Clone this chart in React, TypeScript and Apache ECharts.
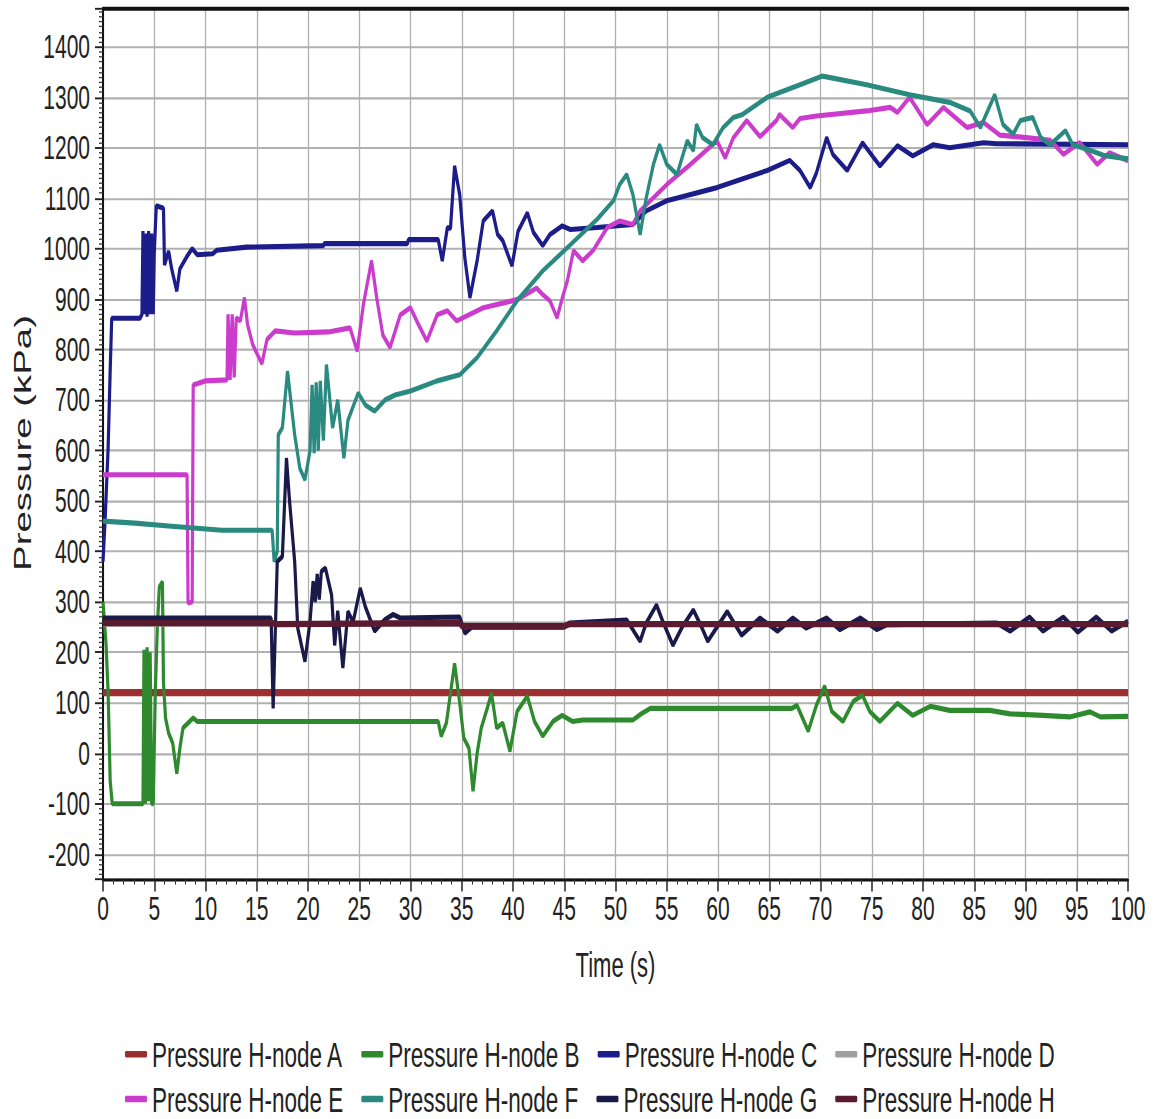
import React, { useEffect, useRef } from "react";
import * as echarts from "echarts";

// The reference picture is vertically stretched; the chart is drawn at a
// reduced height and stretched by the same factor with a CSS transform.
const STRETCH = 1.6;
const WIDTH = 1159;
const HEIGHT = 1119;
const FONT = "'Liberation Sans', Arial, sans-serif";

const seriesNames = [
  "Pressure H-node A",
  "Pressure H-node B",
  "Pressure H-node C",
  "Pressure H-node D",
  "Pressure H-node E",
  "Pressure H-node F",
  "Pressure H-node G",
  "Pressure H-node H",
];

const nodeA: [number, number][] = [[0, 120], [100, 120]];

const nodeB: [number, number][] = [
  [0, 300], [0.3, 215], [0.5, 120], [0.7, -55], [0.9, -100], [3.9, -100], [4.0, 205], [4.15, -100],
  [4.3, 210], [4.45, -95], [4.6, 200], [4.75, -100], [4.9, -100], [5.1, 120], [5.3, 250], [5.5, 330],
  [5.8, 340], [5.9, 140], [6.1, 70], [6.4, 40], [6.8, 20], [7.2, -40], [7.5, 10], [7.8, 50], [8.3, 60],
  [8.8, 70], [9.2, 63], [32.7, 63], [33.0, 34], [33.5, 60], [34.3, 178], [34.8, 100], [35.2, 30],
  [35.7, 10], [36.1, -75], [36.5, 0], [36.9, 50], [37.5, 90], [37.9, 119], [38.4, 50], [39.0, 60],
  [39.7, 4], [40.4, 83], [41.4, 113], [42.1, 63], [42.9, 34], [43.9, 63], [44.8, 75], [45.8, 63],
  [46.8, 66], [51.7, 66], [52.5, 78], [53.4, 89], [67.2, 89], [67.7, 95], [68.8, 44], [69.6, 95],
  [70.4, 133], [71.1, 83], [72.2, 63], [73.2, 103], [74.1, 115], [74.8, 83], [75.8, 63], [77.5, 99],
  [79.0, 75], [80.7, 93], [82.6, 85], [86.5, 85], [88.5, 78], [91.7, 75], [94.3, 72], [96.3, 82],
  [97.3, 72], [100, 73],
];

const nodeC: [number, number][] = [
  [0, 380], [0.2, 460], [0.5, 605], [0.7, 758], [0.85, 862], [3.6, 862], [3.8, 870], [3.9, 1035],
  [4.0, 870], [4.15, 1030], [4.3, 865], [4.45, 1035], [4.6, 870], [4.75, 1030], [4.9, 870], [5.0, 990],
  [5.2, 1085], [5.9, 1080], [6.0, 968], [6.4, 995], [6.7, 960], [7.2, 916], [7.5, 960], [8.2, 985],
  [8.7, 1000], [9.2, 988], [10.7, 990], [11.1, 997], [14, 1003], [21.5, 1006], [21.6, 1010],
  [29.7, 1010], [29.8, 1018], [32.7, 1018], [33.1, 976], [33.6, 1042], [33.9, 1040], [34.3, 1164],
  [34.8, 1107], [35.3, 982], [35.8, 903], [36.5, 976], [37.1, 1055], [38.0, 1075], [38.5, 1028],
  [39.0, 1016], [39.9, 966], [40.5, 1035], [41.4, 1071], [42.0, 1032], [42.9, 1006], [43.6, 1028],
  [44.8, 1045], [45.6, 1038], [48.2, 1042], [51.7, 1048], [53.0, 1075], [55, 1095], [59.9, 1121],
  [64.8, 1155], [67, 1175], [68, 1155], [69, 1121], [69.6, 1150], [70.6, 1220], [71.2, 1187],
  [72.6, 1155], [74.1, 1210], [75.8, 1164], [77.5, 1204], [79.0, 1184], [81, 1206], [82.6, 1200],
  [85.9, 1210], [87.2, 1208], [100, 1206],
];

const nodeD: [number, number][] = [[0, 256], [100, 256]];

const nodeE: [number, number][] = [
  [0, 552], [8.2, 552], [8.3, 298], [8.7, 300], [8.8, 730], [10, 738], [12.1, 740], [12.2, 870],
  [12.4, 740], [12.6, 870], [12.8, 745], [13.0, 863], [13.4, 857], [13.8, 903], [14.1, 850],
  [14.6, 810], [15.5, 772], [16, 820], [16.8, 837], [18.7, 833], [22, 835], [24.1, 843], [24.8, 797],
  [25.4, 889], [26.2, 976], [26.7, 903], [27.3, 829], [28, 804], [29, 869], [30, 883], [30.6, 857],
  [31.6, 817], [32.6, 869], [33.6, 877], [34.5, 857], [37.1, 883], [40.4, 899], [42.3, 922],
  [42.9, 909], [43.6, 897], [44.3, 863], [44.9, 909], [45.3, 936], [45.9, 996], [46.8, 976],
  [47.8, 996], [49.2, 1042], [50.4, 1055], [51.7, 1048], [52.4, 1075], [55, 1127], [57.3, 1167],
  [59.9, 1214], [60.7, 1180], [61.5, 1220], [62.8, 1254], [64.1, 1222], [65.7, 1254], [66, 1266],
  [67.3, 1240], [68, 1258], [69.6, 1263], [74.5, 1273], [76.8, 1280], [77.5, 1270], [78.7, 1300],
  [80.4, 1246], [82, 1280], [84.3, 1240], [85.9, 1250], [87.5, 1225], [90.1, 1220], [92.4, 1215],
  [93.7, 1187], [95.3, 1210], [97, 1167], [98.2, 1190], [100, 1174],
];

const nodeF: [number, number][] = [
  [0, 460], [3.1, 456], [6.7, 450], [11.6, 442], [16.5, 442], [16.7, 380], [17.0, 400], [17.1, 631],
  [17.5, 645], [18, 757], [18.7, 631], [19.2, 565], [19.7, 542], [20.2, 600], [20.4, 730], [20.6, 595],
  [20.8, 735], [21.0, 600], [21.2, 738], [21.5, 620], [21.8, 770], [22.4, 645], [22.9, 700],
  [23.5, 585], [23.9, 660], [24.9, 714], [25.6, 690], [26.5, 678], [27.5, 700], [28.5, 710],
  [30, 718], [32.6, 738], [34.8, 750], [36.5, 784], [38.4, 837], [40.4, 897], [42.9, 956],
  [45.3, 1002], [48.2, 1058], [49.8, 1095], [50.4, 1127], [51.1, 1147], [51.7, 1107], [52.4, 1028],
  [53, 1101], [53.7, 1167], [54.3, 1206], [55, 1167], [56, 1147], [57, 1214], [57.6, 1194],
  [57.9, 1246], [58.5, 1220], [59.5, 1206], [60.5, 1240], [61.5, 1260], [62.4, 1266], [64.8, 1300],
  [68, 1325], [70.2, 1342], [74.5, 1325], [78.7, 1305], [82.6, 1290], [84.6, 1273], [85.6, 1240],
  [87, 1305], [87.8, 1246], [88.8, 1227], [89.5, 1254], [90.7, 1260], [91.5, 1220], [92.4, 1206],
  [93.9, 1234], [94.6, 1206], [96.3, 1195], [97.6, 1185], [100, 1178],
];

const nodeG: [number, number][] = [
  [0, 268], [16.4, 268], [16.6, 89], [17.0, 380], [17.5, 390], [17.9, 585], [18.2, 500], [18.7, 380],
  [19.0, 248], [19.7, 182], [20.2, 262], [20.5, 341], [20.7, 300], [20.9, 355], [21.1, 305],
  [21.3, 360], [21.7, 367], [22.3, 314], [22.6, 214], [22.9, 282], [23.4, 169], [23.9, 281],
  [24.4, 260], [25.1, 327], [25.6, 290], [26.5, 242], [27.5, 265], [28.3, 275], [29, 268],
  [34.8, 270], [35.3, 238], [36, 250], [45, 250], [45.5, 258], [51.1, 264], [52.4, 222], [53, 258],
  [54, 294], [54.6, 262], [55.6, 214], [56.5, 250], [57.6, 284], [58.4, 250], [59, 222], [59.9, 250],
  [60.9, 281], [62.3, 234], [64.1, 268], [65.8, 242], [67.3, 268], [68.6, 248], [70.6, 268],
  [71.9, 245], [73.9, 268], [75.5, 245], [76.5, 255], [87.2, 258], [88.5, 242], [90.4, 270],
  [91.7, 242], [93.7, 270], [95.1, 240], [96.9, 270], [98.4, 242], [100, 262],
];

const nodeH: [number, number][] = [
  [0, 258], [16.5, 258], [17, 256], [34.8, 258], [35, 252], [45, 252], [45.5, 256], [100, 256],
];

const seriesData = [nodeA, nodeB, nodeC, nodeD, nodeE, nodeF, nodeG, nodeH];
const seriesColors = ["#9c2f2f", "#2f8a2f", "#1c1c8a", "#a0a0a0", "#cc3ccc", "#2a8a80", "#1a1a4a", "#5a1a30"];
const seriesWidths = [4.5, 3.2, 3.2, 3.2, 3.2, 3.2, 3.2, 4];

const xTickLabels = { min: 0, max: 100, step: 5 };
const yRange = { min: -250, max: 1475 };

export default function App() {
  const ref = useRef<HTMLDivElement>(null);

  useEffect(() => {
    if (!ref.current) return;
    const chart = echarts.init(ref.current, undefined, { renderer: "svg" });
    const s = (v: number) => v / STRETCH;
    const legendBase = {
      left: 125,
      padding: 0,
      itemWidth: 22,
      itemHeight: 4,
      itemGap: 18,
      icon: "roundRect",
      textStyle: { fontFamily: FONT, fontSize: 22.5, color: "#222" },
    };
    const option: any = {
      animation: false,
      backgroundColor: "#ffffff",
      grid: { left: 103, right: 31, top: s(9), bottom: s(239), containLabel: false },
      xAxis: [
        {
          type: "value",
          min: xTickLabels.min,
          max: xTickLabels.max,
          interval: xTickLabels.step,
          position: "bottom",
          axisLine: { show: true, onZero: false, lineStyle: { color: "#111", width: 2 } },
          axisTick: { show: true, length: s(12), lineStyle: { color: "#222", width: 1.5 } },
          minorTick: { show: true, splitNumber: 5, length: s(5), lineStyle: { color: "#333", width: 1 } },
          splitLine: { show: true, lineStyle: { color: "#b0b0b0", width: 1.3 } },
          axisLabel: { fontFamily: FONT, fontSize: 21, color: "#222", margin: s(12) },
          name: "Time (s)",
          nameLocation: "middle",
          nameGap: s(85) - 11,
          nameTextStyle: { fontFamily: FONT, fontSize: 22, color: "#222" },
        },
        {
          type: "value",
          min: xTickLabels.min,
          max: xTickLabels.max,
          position: "top",
          axisLine: { show: true, onZero: false, lineStyle: { color: "#111", width: 2.5 } },
          axisTick: { show: false },
          axisLabel: { show: false },
          splitLine: { show: false },
        },
      ],
      yAxis: {
        type: "value",
        min: yRange.min,
        max: yRange.max,
        splitNumber: 17,
        axisLine: { show: true, onZero: false, lineStyle: { color: "#111", width: 2 } },
        axisTick: { show: true, length: 8, lineStyle: { color: "#222", width: 1.2 } },
        minorTick: { show: true, splitNumber: 10, length: 4, lineStyle: { color: "#333", width: 0.8 } },
        splitLine: { show: true, lineStyle: { color: "#b0b0b0", width: 1.3 } },
        axisLabel: {
          fontFamily: FONT,
          fontSize: 21,
          color: "#222",
          margin: 13,
          showMinLabel: false,
          showMaxLabel: false,
          formatter: (v: number) => String(v),
        },
      },
      legend: [
        { ...legendBase, top: s(1055) - 12, data: seriesNames.slice(0, 4) },
        { ...legendBase, top: s(1103) - 14, data: seriesNames.slice(4, 8) },
      ],
      graphic: [
        {
          type: "text",
          x: 23,
          y: s(443),
          rotation: Math.PI / 2,
          style: {
            text: "Pressure (kPa)",
            fontFamily: FONT,
            fontSize: 24,
            fill: "#222",
            align: "center",
            verticalAlign: "middle",
          },
        },
      ],
      series: seriesNames.map((name, i) => ({
        name,
        type: "line",
        data: seriesData[i],
        showSymbol: false,
        symbol: "none",
        color: seriesColors[i],
        lineStyle: { color: seriesColors[i], width: seriesWidths[i] },
        xAxisIndex: 0,
        yAxisIndex: 0,
        z: 2 + i,
      })),
    };
    chart.setOption(option);
    return () => chart.dispose();
  }, []);

  return (
    <div
      style={{
        position: "fixed",
        left: 0,
        top: 0,
        width: WIDTH,
        height: HEIGHT,
        background: "#fff",
        overflow: "hidden",
      }}
    >
      <div
        ref={ref}
        style={{
          width: WIDTH,
          height: HEIGHT / STRETCH,
          transform: `scaleY(${STRETCH})`,
          transformOrigin: "0 0",
        }}
      />
    </div>
  );
}
